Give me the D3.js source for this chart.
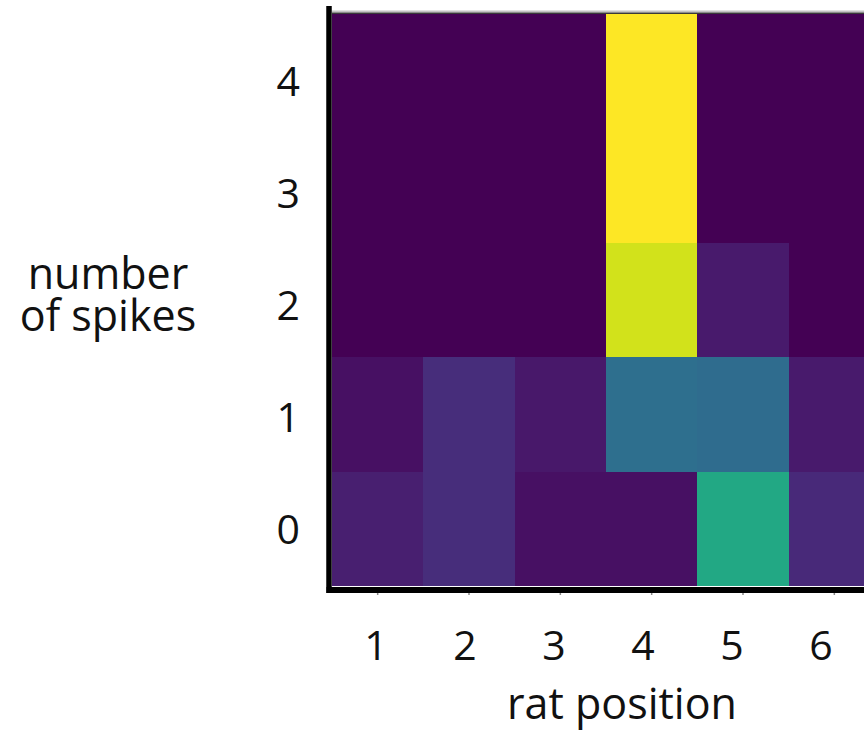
<!DOCTYPE html>
<html>
<head>
<meta charset="utf-8">
<script src="https://cdn.jsdelivr.net/npm/d3@7"></script>
<style>
  html, body { margin: 0; padding: 0; background: #fff; overflow: hidden; }
  svg { display: block; }
  text { font-family: "Open Sans", "Noto Sans", sans-serif; fill: #111; }
</style>
</head>
<body>
<svg id="chart" width="864" height="735"></svg>
<script>
// Rat positions along the track (columns) and spike counts (rows, top to bottom)
const positions = [1, 2, 3, 4, 5, 6];
const spikeCounts = [4, 3, 2, 1, 0];

// Normalised likelihood for each spike count, one value per rat position
const spikes4 = [0.00, 0.00, 0.00, 1.00, 0.00, 0.00];
const spikes3 = [0.00, 0.00, 0.00, 1.00, 0.00, 0.00];
const spikes2 = [0.00, 0.00, 0.00, 0.93, 0.07, 0.00];
const spikes1 = [0.04, 0.125, 0.065, 0.36, 0.35, 0.07];
const spikes0 = [0.085, 0.125, 0.04, 0.04, 0.60, 0.115];

const xTitle = "rat position";
const yTitleLines = ["number", "of spikes"];

const rows = [spikes4, spikes3, spikes2, spikes1, spikes0];
const cells = [];
spikeCounts.forEach((s, i) => {
  positions.forEach((p, j) => cells.push({ spikes: s, pos: p, value: rows[i][j] }));
});

const svg = d3.select("#chart");

const x = d3.scaleBand().domain(positions).range([332, 880]).padding(0);
const y = d3.scaleBand().domain(spikeCounts).range([14, 586]).padding(0);
const color = d3.scaleSequential(d3.interpolateViridis).domain([0, 1]);

// Tick labels sit on their own evenly spaced scales
const xLabel = d3.scalePoint().domain(positions).range([376, 821]);
const yLabel = d3.scalePoint().domain(spikeCounts).range([80, 528]);

// Heatmap cells
svg.append("g")
  .attr("shape-rendering", "crispEdges")
  .selectAll("rect")
  .data(cells)
  .join("rect")
  .attr("x", d => Math.round(x(d.pos)))
  .attr("y", d => Math.round(y(d.spikes)))
  .attr("width", d => Math.round(x(d.pos) + x.bandwidth()) - Math.round(x(d.pos)))
  .attr("height", d => Math.round(y(d.spikes) + y.bandwidth()) - Math.round(y(d.spikes)))
  .attr("fill", d => color(d.value));

// Thin grey rim along the top of the image
const plotTop = y.range()[0];
const plotBottom = y.range()[1];
const plotLeft = x.range()[0];
svg.append("line")
  .attr("x1", plotLeft).attr("x2", 864)
  .attr("y1", plotTop - 2.5).attr("y2", plotTop - 2.5)
  .attr("stroke", "#c4c4c4").attr("stroke-width", 2);
svg.append("line")
  .attr("x1", plotLeft).attr("x2", 864)
  .attr("y1", plotTop - 0.75).attr("y2", plotTop - 0.75)
  .attr("stroke", "#3a3a3a").attr("stroke-width", 1.5);

// Small tick marks under the bottom axis
svg.append("g")
  .attr("transform", `translate(0,${plotBottom + 6})`)
  .call(d3.axisBottom(x).tickSize(3).tickSizeOuter(0).tickFormat(""))
  .call(g => g.select(".domain").remove())
  .call(g => g.selectAll(".tick line").attr("stroke", "#888").attr("stroke-width", 1.5));

// Heavy axis lines
svg.append("line")
  .attr("x1", plotLeft - 3).attr("x2", plotLeft - 3)
  .attr("y1", 6).attr("y2", plotBottom + 7)
  .attr("stroke", "#000").attr("stroke-width", 5.5);
svg.append("line")
  .attr("x1", plotLeft - 5.5).attr("x2", 864)
  .attr("y1", plotBottom + 4).attr("y2", plotBottom + 4)
  .attr("stroke", "#000").attr("stroke-width", 6);

// Tick labels
svg.append("g")
  .selectAll("text")
  .data(positions)
  .join("text")
  .attr("x", d => xLabel(d))
  .attr("y", 644)
  .attr("text-anchor", "middle")
  .attr("dominant-baseline", "central")
  .attr("font-size", 41)
  .text(d => d);

svg.append("g")
  .selectAll("text")
  .data(spikeCounts)
  .join("text")
  .attr("x", 300)
  .attr("y", d => yLabel(d))
  .attr("text-anchor", "end")
  .attr("dominant-baseline", "central")
  .attr("font-size", 41)
  .text(d => d);

// Axis titles
svg.append("text")
  .attr("x", 622).attr("y", 719)
  .attr("text-anchor", "middle")
  .attr("font-size", 43)
  .text(xTitle);

svg.append("text")
  .attr("x", 108).attr("y", 289)
  .attr("text-anchor", "middle")
  .attr("font-size", 43)
  .selectAll("tspan")
  .data(yTitleLines)
  .join("tspan")
  .attr("x", 108)
  .attr("dy", (d, i) => i === 0 ? 0 : 42)
  .text(d => d);
</script>
</body>
</html>
